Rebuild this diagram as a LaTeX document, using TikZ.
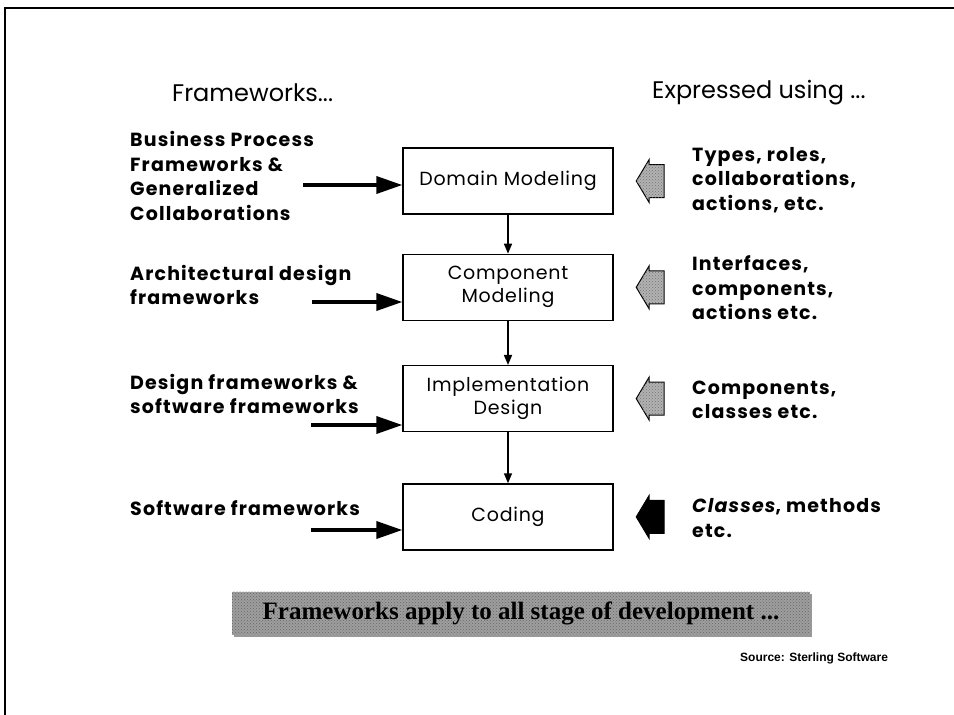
\documentclass[tikz,border=0pt]{standalone}
\usepackage{fontspec}
\setmainfont{Poppins}
\newfontfamily\srcfont{Liberation Sans}
\newfontfamily\bannerfont{Liberation Serif}
\usepackage{tikz}
\usetikzlibrary{shapes.arrows, arrows.meta, positioning, calc, patterns, shadows}

\begin{document}
\begin{tikzpicture}[
    x=1pt, y=-1pt,
    stage/.style={
      rectangle, draw, line width=1.3pt,
      minimum width=210pt, minimum height=66pt,
      font=\fontsize{19}{23}\selectfont\addfontfeatures{LetterSpace=4}, align=center
    },
    lbl/.style={font=\fontsize{19}{24.5}\selectfont\bfseries\addfontfeatures{LetterSpace=6},
                align=left, anchor=west, inner sep=0pt},
    head/.style={font=\fontsize{24}{30}\selectfont, anchor=west, inner sep=0pt},
    feed/.style={-{Triangle[length=26pt, width=17pt]}, line width=3.5pt},
    step down/.style={-{Triangle[length=10pt, width=8pt]}, line width=1.6pt},
    notation/.style={
      single arrow, draw, line width=1pt, fill=#1,
      shape border rotate=180, inner xsep=0pt, inner ysep=16pt,
      minimum height=28pt,
      single arrow head extend=5pt, single arrow tip angle=118
    },
    notation/.default=black!30,
    dithered/.style={postaction={pattern=crosshatch dots, pattern color=black!55}},
  ]

  \useasboundingbox (0,0) rectangle (954,715);

  %% -- slide frame ------------------------------------------------------
  \draw[line width=2.5pt] (954,8) -- (5,8) -- (5,715);

  %% -- column titles ----------------------------------------------------
  \node[head] (thead) at (172,93) {Frameworks...};
  \node[head] (ehead) at (652,93) {Expressed using ...};

  %% -- stages (centre column, top -> bottom) ----------------------------
  \node[stage] (domain) at (508,181) {Domain Modeling};
  \node[stage, below=39pt of domain] (comp)   {Component\\Modeling};
  \node[stage, below=44pt of comp]   (impl)   {Implementation\\Design};
  \node[stage, below=51pt of impl]   (coding) {Coding};

  \draw[step down] (domain) -- (comp);
  \draw[step down] (comp)   -- (impl);
  \draw[step down] (impl)   -- (coding);

  %% -- frameworks (left column) -----------------------------------------
  \node[lbl] (fw1) at (130,176) {Business Process\\Frameworks \&\\Generalized\\Collaborations};
  \node[lbl] (fw2) at (130,285) {Architectural design\\frameworks};
  \node[lbl] (fw3) at (130,394) {Design frameworks \&\\software frameworks};
  \node[lbl] (fw4) at (130,508) {Software frameworks};

  \coordinate (src1) at (303,185);
  \coordinate (src2) at (312,302);
  \coordinate (src3) at (311,425);
  \coordinate (src4) at (311,530);

  \draw[feed] (src1) -- (src1 -| domain.west);
  \draw[feed] (src2) -- (src2 -| comp.west);
  \draw[feed] (src3) -- (src3 -| impl.west);
  \draw[feed] (src4) -- (src4 -| coding.west);

  %% -- notations (right column) -----------------------------------------
  \node[notation, dithered, right=22pt of domain] (n1) {};
  \node[notation, dithered, right=22pt of comp]   (n2) {};
  \node[notation, dithered, right=22pt of impl]   (n3) {};
  \node[notation=black,     right=22pt of coding] (n4) {};

  \node[lbl] (ex1) at (692,180) {Types, roles,\\collaborations,\\actions, etc.};
  \node[lbl] (ex2) at (692,288) {Interfaces,\\components,\\actions etc.};
  \node[lbl] (ex3) at (692,400) {Components,\\classes etc.};
  \node[lbl] (ex4) at (692,518) {\itshape Classes\upshape, methods\\etc.};

  %% -- banner and source ------------------------------------------------
  \node[rectangle, minimum width=578pt, minimum height=43pt, inner sep=0pt,
        fill=black!38, drop shadow={shadow xshift=2pt, shadow yshift=-2pt, fill=black!80},
        postaction={pattern=crosshatch dots, pattern color=black!60},
        font=\bannerfont\fontsize{25}{28}\selectfont\bfseries, text=black]
        (banner) at (521,613) {Frameworks apply to all stage of development ...};

  \node[font=\srcfont\fontsize{12}{14}\selectfont\bfseries, anchor=west, inner sep=0pt]
        (source) at (740,658) {Source: Sterling Software};

\end{tikzpicture}
\end{document}
